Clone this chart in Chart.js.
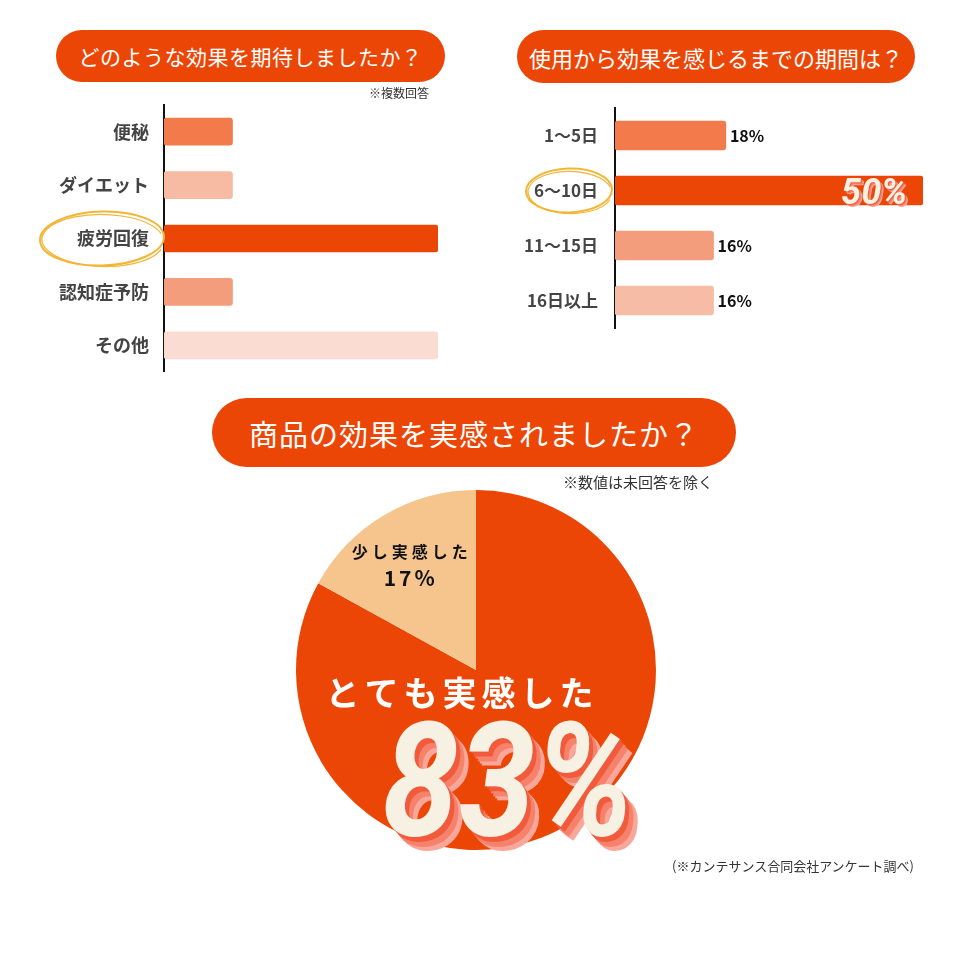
<!DOCTYPE html>
<html>
<head>
<meta charset="utf-8">
<script src="https://cdn.jsdelivr.net/npm/chart.js@4"></script>
<style>
  body { margin: 0; width: 960px; height: 960px; background: #fff; position: relative; overflow: hidden; }
  canvas { position: absolute; }
  .pill {
    position: absolute; background: #EC4606; color: #fff; border-radius: 999px;
    display: flex; align-items: center; justify-content: center; white-space: nowrap;
    font-family: "Noto Sans CJK JP", sans-serif; font-weight: 400;
  }
  .note { position: absolute; font-family: "Noto Sans CJK JP", sans-serif; color: #333; white-space: nowrap; }
</style>
</head>
<body>
<canvas id="effectChart" width="480" height="272" style="left:0;top:100px"></canvas>
<canvas id="periodChart" width="480" height="240" style="left:480px;top:100px"></canvas>
<canvas id="feelChart" width="400" height="400" style="left:276px;top:470px"></canvas>

<div class="pill" style="left:56px;top:30px;width:389px;height:52px;font-size:21px;letter-spacing:0.5px">どのような効果を期待しましたか？</div>
<div class="pill" style="left:517px;top:30px;width:398px;height:53px;font-size:22px">使用から効果を感じるまでの期間は？</div>
<div class="pill" style="left:212px;top:398px;width:524px;height:69px;font-size:29px;letter-spacing:1px">商品の効果を実感されましたか？</div>
<div class="note" style="left:369px;top:84px;font-size:12px">※複数回答</div>
<div class="note" style="left:563px;top:471px;font-size:15px">※数値は未回答を除く</div>
<div class="note" style="left:672px;top:856px;font-size:13px">(※カンテサンス合同会社アンケート調べ)</div>

<script>
// data
const effectLabels = ['便秘', 'ダイエット', '疲労回復', '認知症予防', 'その他'];
const effectValues = [25, 25, 100, 25, 100];
const effectColors = ['#F27A4B', '#F7BAA3', '#EC4606', '#F49D7D', '#FBDCD2'];

const periodLabels = ['1〜5日', '6〜10日', '11〜15日', '16日以上'];
const periodValues = [18, 50, 16, 16];
const periodColors = ['#F27A4B', '#EC4606', '#F49D7D', '#F7BCA5'];

const feelLabels = ['とても実感した', '少し実感した'];
const feelValues = [83, 17];
const feelColors = ['#EC4606', '#F6C58E'];

const jpFont = '"Noto Sans CJK JP", sans-serif';

// yellow hand drawn circle round one tick label
const highlight = {
    id: 'highlight',
    afterDraw(chart, args, opts) {
        const ctx = chart.ctx;
        const y = chart.scales.y.getPixelForValue(opts.index);
        const x = chart.chartArea.left - opts.dx;
        ctx.save();
        ctx.strokeStyle = '#F3B535';
        ctx.lineWidth = 2;
        ctx.beginPath();
        ctx.ellipse(x, y, opts.rx, opts.ry, -0.03, 0, Math.PI * 2);
        ctx.stroke();
        ctx.lineWidth = 1.2;
        ctx.beginPath();
        ctx.ellipse(x + 1, y + 2, opts.rx - 1, opts.ry - 1, 0.02, 0.3, Math.PI * 1.9);
        ctx.stroke();
        ctx.restore();
    }
};

function fancyText(ctx, text, x, y, depth, step) {
    const shadows = ['#F9A79B', '#F6826C', '#F15B3C'];
    for (let i = depth; i >= 1; i--) {
        ctx.fillStyle = shadows[Math.min(shadows.length - 1, Math.floor((depth - i) * shadows.length / depth))];
        ctx.fillText(text, x + i * step, y + i * step);
    }
    ctx.fillStyle = '#F7F1E3';
    ctx.fillText(text, x, y);
}

// value labels for the period bars
const periodValueLabels = {
    id: 'periodValueLabels',
    afterDatasetsDraw(chart) {
        const ctx = chart.ctx;
        const bars = chart.getDatasetMeta(0).data;
        ctx.save();
        bars.forEach((bar, i) => {
            const txt = periodValues[i] + '%';
            if (i === 1) {
                ctx.font = 'italic bold 36px Roboto';
                ctx.textAlign = 'right';
                ctx.textBaseline = 'alphabetic';
                fancyText(ctx, txt, bar.x - 16, bar.y + 13, 3, 1);
            } else {
                ctx.font = 'bold 16px ' + jpFont;
                ctx.fillStyle = '#111';
                ctx.textAlign = 'left';
                ctx.textBaseline = 'middle';
                ctx.fillText(txt, bar.x + 4, bar.y);
            }
        });
        ctx.restore();
    }
};

const pieText = {
    id: 'pieText',
    afterDraw(chart) {
        const ctx = chart.ctx;
        const meta = chart.getDatasetMeta(0);
        const big = meta.data[0];
        const small = meta.data[1];
        const cx = big.x, cy = big.y, r = big.outerRadius;
        ctx.save();
        ctx.textAlign = 'center';
        ctx.textBaseline = 'middle';

        const mid = (small.startAngle + small.endAngle) / 2;
        const sx = cx + Math.cos(mid) * r * 0.68 - 4;
        const sy = cy + Math.sin(mid) * r * 0.68;
        ctx.fillStyle = '#111';
        ctx.letterSpacing = '4px';
        ctx.font = 'bold 16px ' + jpFont;
        ctx.fillText(feelLabels[1], sx + 2, sy - 13);
        ctx.letterSpacing = '3px';
        ctx.font = 'bold 21px ' + jpFont;
        ctx.fillText(feelValues[1] + '%', sx + 1, sy + 13);

        ctx.fillStyle = '#fff';
        ctx.letterSpacing = '5px';
        ctx.font = 'bold 34px ' + jpFont;
        ctx.fillText(feelLabels[0], cx - 14, cy + 23);

        ctx.letterSpacing = '0px';
        ctx.textBaseline = 'alphabetic';
        ctx.font = 'italic bold 160px Roboto';
        ctx.translate(cx + 32, cy + 165);
        ctx.scale(0.86, 1);
        fancyText(ctx, feelValues[0] + '%', 0, 0, 6, 2.4);
        ctx.restore();
    }
};

function barOptions(axisWidth, padRight, padTop, padBottom, max, tickPad, fontSize) {
    return {
        indexAxis: 'y',
        responsive: false,
        animation: false,
        layout: { padding: { top: padTop, bottom: padBottom, right: padRight, left: 0 } },
        plugins: { legend: { display: false }, tooltip: { enabled: false } },
        scales: {
            x: { display: false, min: 0, max: max },
            y: {
                grid: { display: false, drawTicks: false },
                border: { display: true, color: '#111', width: 2 },
                ticks: { color: '#444', padding: tickPad, font: { family: jpFont, size: fontSize, weight: 'bold' } },
                afterFit(scale) {
                    scale.width = axisWidth;
                    scale.paddingTop = 0;
                    scale.paddingBottom = 0;
                }
            }
        }
    };
}

const effectOpts = barOptions(164, 42, 5, 0, 100, 15, 18);
effectOpts.plugins.highlight = { index: 2, dx: 62, rx: 62, ry: 27 };
new Chart(document.getElementById('effectChart'), {
    type: 'bar',
    data: {
        labels: effectLabels,
        datasets: [{ data: effectValues, backgroundColor: effectColors, barThickness: 27, borderRadius: 3, borderSkipped: false }]
    },
    options: effectOpts,
    plugins: [highlight]
});

const periodOpts = barOptions(135, 37, 8, 12, 50, 17, 17);
periodOpts.plugins.highlight = { index: 1, dx: 46, rx: 43, ry: 22 };
new Chart(document.getElementById('periodChart'), {
    type: 'bar',
    data: {
        labels: periodLabels,
        datasets: [{ data: periodValues, backgroundColor: periodColors, barThickness: 29, borderRadius: 3, borderSkipped: false }]
    },
    options: periodOpts,
    plugins: [highlight, periodValueLabels]
});

new Chart(document.getElementById('feelChart'), {
    type: 'pie',
    data: {
        labels: feelLabels,
        datasets: [{ data: feelValues, backgroundColor: feelColors, borderWidth: 0 }]
    },
    options: {
        responsive: false,
        animation: false,
        layout: { padding: 20 },
        plugins: { legend: { display: false }, tooltip: { enabled: false } }
    },
    plugins: [pieText]
});
</script>
</body>
</html>
